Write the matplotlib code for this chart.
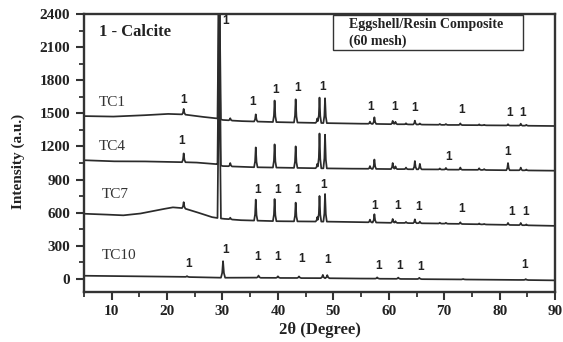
import numpy as np
import matplotlib
matplotlib.use("Agg")
import matplotlib.pyplot as plt
from matplotlib.patches import Rectangle

# ---------------- data ----------------
series_names = ["TC1", "TC4", "TC7", "TC10"]

# baseline nodes (2theta, intensity)
tc1_base_x = [5, 10, 15, 20, 23, 26, 29, 30, 33, 40, 50, 60, 70, 80, 90]
tc1_base_y = [1475, 1470, 1480, 1495, 1490, 1470, 1455, 1440, 1430, 1420, 1410, 1402, 1395, 1390, 1385]
tc4_base_x = [5, 10, 15, 20, 25, 29, 30, 35, 40, 50, 60, 70, 80, 90]
tc4_base_y = [1075, 1065, 1065, 1060, 1055, 1040, 1022, 1012, 1008, 1000, 995, 990, 985, 980]
tc7_base_x = [5, 8, 12, 15, 18, 21, 23, 25, 28, 29, 30, 33, 40, 50, 60, 70, 80, 90]
tc7_base_y = [590, 585, 575, 590, 620, 648, 640, 610, 560, 552, 545, 532, 522, 518, 508, 500, 490, 480]
tc10_base_x = [5, 10, 20, 25, 30, 35, 40, 50, 60, 70, 80, 90]
tc10_base_y = [28, 25, 20, 15, 10, 10, 8, 5, 0, -5, -8, -14]

# calcite peak positions and heights above baseline
calcite_pos = [23.0, 29.4, 31.4, 36.0, 39.4, 43.2, 47.1, 47.5, 48.5, 56.6, 57.4,
               60.7, 61.2, 63.1, 64.7, 65.6, 69.2, 70.3, 72.9, 76.3, 77.2, 81.5, 83.8, 84.8]
tc1_peaks = [50, 3000, 20, 65, 195, 210, 40, 230, 225, 20, 60,
             30, 22, 10, 35, 10, 8, 8, 15, 8, 5, 12, 18, 8]
tc4_peaks = [80, 3000, 30, 180, 210, 195, 40, 315, 305, 25, 85,
             55, 25, 15, 75, 50, 10, 15, 20, 15, 8, 65, 25, 8]
tc7_peaks = [55, 3000, 15, 190, 200, 170, 40, 232, 250, 25, 75,
             35, 15, 10, 35, 15, 8, 8, 15, 8, 5, 18, 20, 8]
tc10_pos = [23.6, 30.1, 36.5, 40.0, 43.8, 48.1, 48.9, 57.9, 61.7, 65.5, 73.4, 84.7]
tc10_peaks = [8, 150, 20, 15, 15, 30, 28, 12, 12, 12, 5, 8]

# peak marker labels "1" (2theta, intensity)
mark_x = [30.6,
          23.0, 35.4, 39.5, 43.6, 48.0, 56.8, 61.1, 64.7, 73.2, 81.7, 84.2,
          22.7, 70.7, 81.5,
          36.4, 40.0, 43.6, 48.3, 57.5, 61.5, 65.3, 73.2, 82.1, 84.6,
          23.8, 30.6, 36.4, 40.0, 44.2, 48.9, 58.2, 62.0, 65.8, 84.4]
mark_y = [2340,
          1621, 1600, 1712, 1730, 1739, 1558, 1558, 1550, 1530, 1503, 1503,
          1250, 1105, 1150,
          806, 806, 806, 851, 661, 661, 655, 634, 607, 607,
          136, 263, 199, 199, 181, 172, 118, 118, 109, 127]

label_pos_x = [7.7, 7.7, 8.2, 8.2]
label_pos_y = [1594, 1196, 760, 215]

x_ticks = [10, 20, 30, 40, 50, 60, 70, 80, 90]
y_ticks = [0, 300, 600, 900, 1200, 1500, 1800, 2100, 2400]

# ---------------- drawing ----------------
grid = np.arange(5.0, 90.0001, 0.02)
prof_off = np.array([-2.5, -1.0, 0.0, 1.0, 2.5])
prof_val = np.array([0.0, 0.3, 1.0, 0.3, 0.0])


def trace(bx, by, pos, hts, w):
    y = np.interp(grid, bx, by)
    for p, h in zip(pos, hts):
        y = y + h * np.interp(grid, p + prof_off * w, prof_val, left=0, right=0)
    return y


traces = [
    trace(tc1_base_x, tc1_base_y, calcite_pos, tc1_peaks, 0.12),
    trace(tc4_base_x, tc4_base_y, calcite_pos, tc4_peaks, 0.12),
    trace(tc7_base_x, tc7_base_y, calcite_pos, tc7_peaks, 0.12),
    trace(tc10_base_x, tc10_base_y, tc10_pos, tc10_peaks, 0.15),
]

serif = ["Liberation Serif", "DejaVu Serif"]
fig = plt.figure(figsize=(5.63, 3.42), dpi=100)
ax = fig.add_axes([0.149, 0.146, 0.837, 0.813])

for t in traces:
    ax.plot(grid, t, color="#2b2b2b", lw=1.25)

for x, y in zip(mark_x, mark_y):
    ax.text(x, y, "1", ha="center", va="center", fontsize=8.5, fontweight="bold",
            family=["Liberation Sans", "DejaVu Sans"], color="#222222")

for name, x, y in zip(series_names, label_pos_x, label_pos_y):
    ax.text(x, y, name, ha="left", va="center", fontsize=11, family=serif, color="#333333")

ax.text(7.7, 2235, "1 - Calcite", ha="left", va="center", fontsize=12,
        fontweight="bold", family=serif, color="#222222")

ax.add_patch(Rectangle((50.0, 2075), 34.2, 318, fill=False, lw=1.0, ec="#333333"))
ax.text(52.8, 2305, "Eggshell/Resin Composite", ha="left", va="center", fontsize=10,
        fontweight="bold", family=serif, color="#222222")
ax.text(52.8, 2150, "(60 mesh)", ha="left", va="center", fontsize=10,
        fontweight="bold", family=serif, color="#222222")

ax.set_xlim(5, 90)
ax.set_ylim(-120, 2400)
ax.set_xticks(x_ticks)
ax.set_xticks(np.arange(5, 91, 5), minor=True)
ax.set_yticks(y_ticks)
ax.set_yticks(np.arange(-150, 2401, 150)[1:], minor=True)
ax.tick_params(which="major", direction="out", length=6, width=1.5, color="#333333")
ax.tick_params(which="minor", direction="out", length=3.5, width=1.3, color="#333333")
ax.tick_params(axis="y", pad=4)
for lab in ax.get_xticklabels() + ax.get_yticklabels():
    lab.set_family(serif)
    lab.set_fontweight("bold")
    lab.set_fontsize(11)
    lab.set_color("#222222")
for s in ax.spines.values():
    s.set_linewidth(1.7)
    s.set_color("#333333")

ax.set_xlabel("2θ (Degree)", family=serif, fontweight="bold", fontsize=12,
              color="#222222", labelpad=3)
ax.set_ylabel("Intensity (a.u.)", family=serif, fontweight="bold", fontsize=11,
              color="#222222")
ax.yaxis.set_label_coords(-0.125, 0.47)

fig.savefig("out.png", dpi=100)
